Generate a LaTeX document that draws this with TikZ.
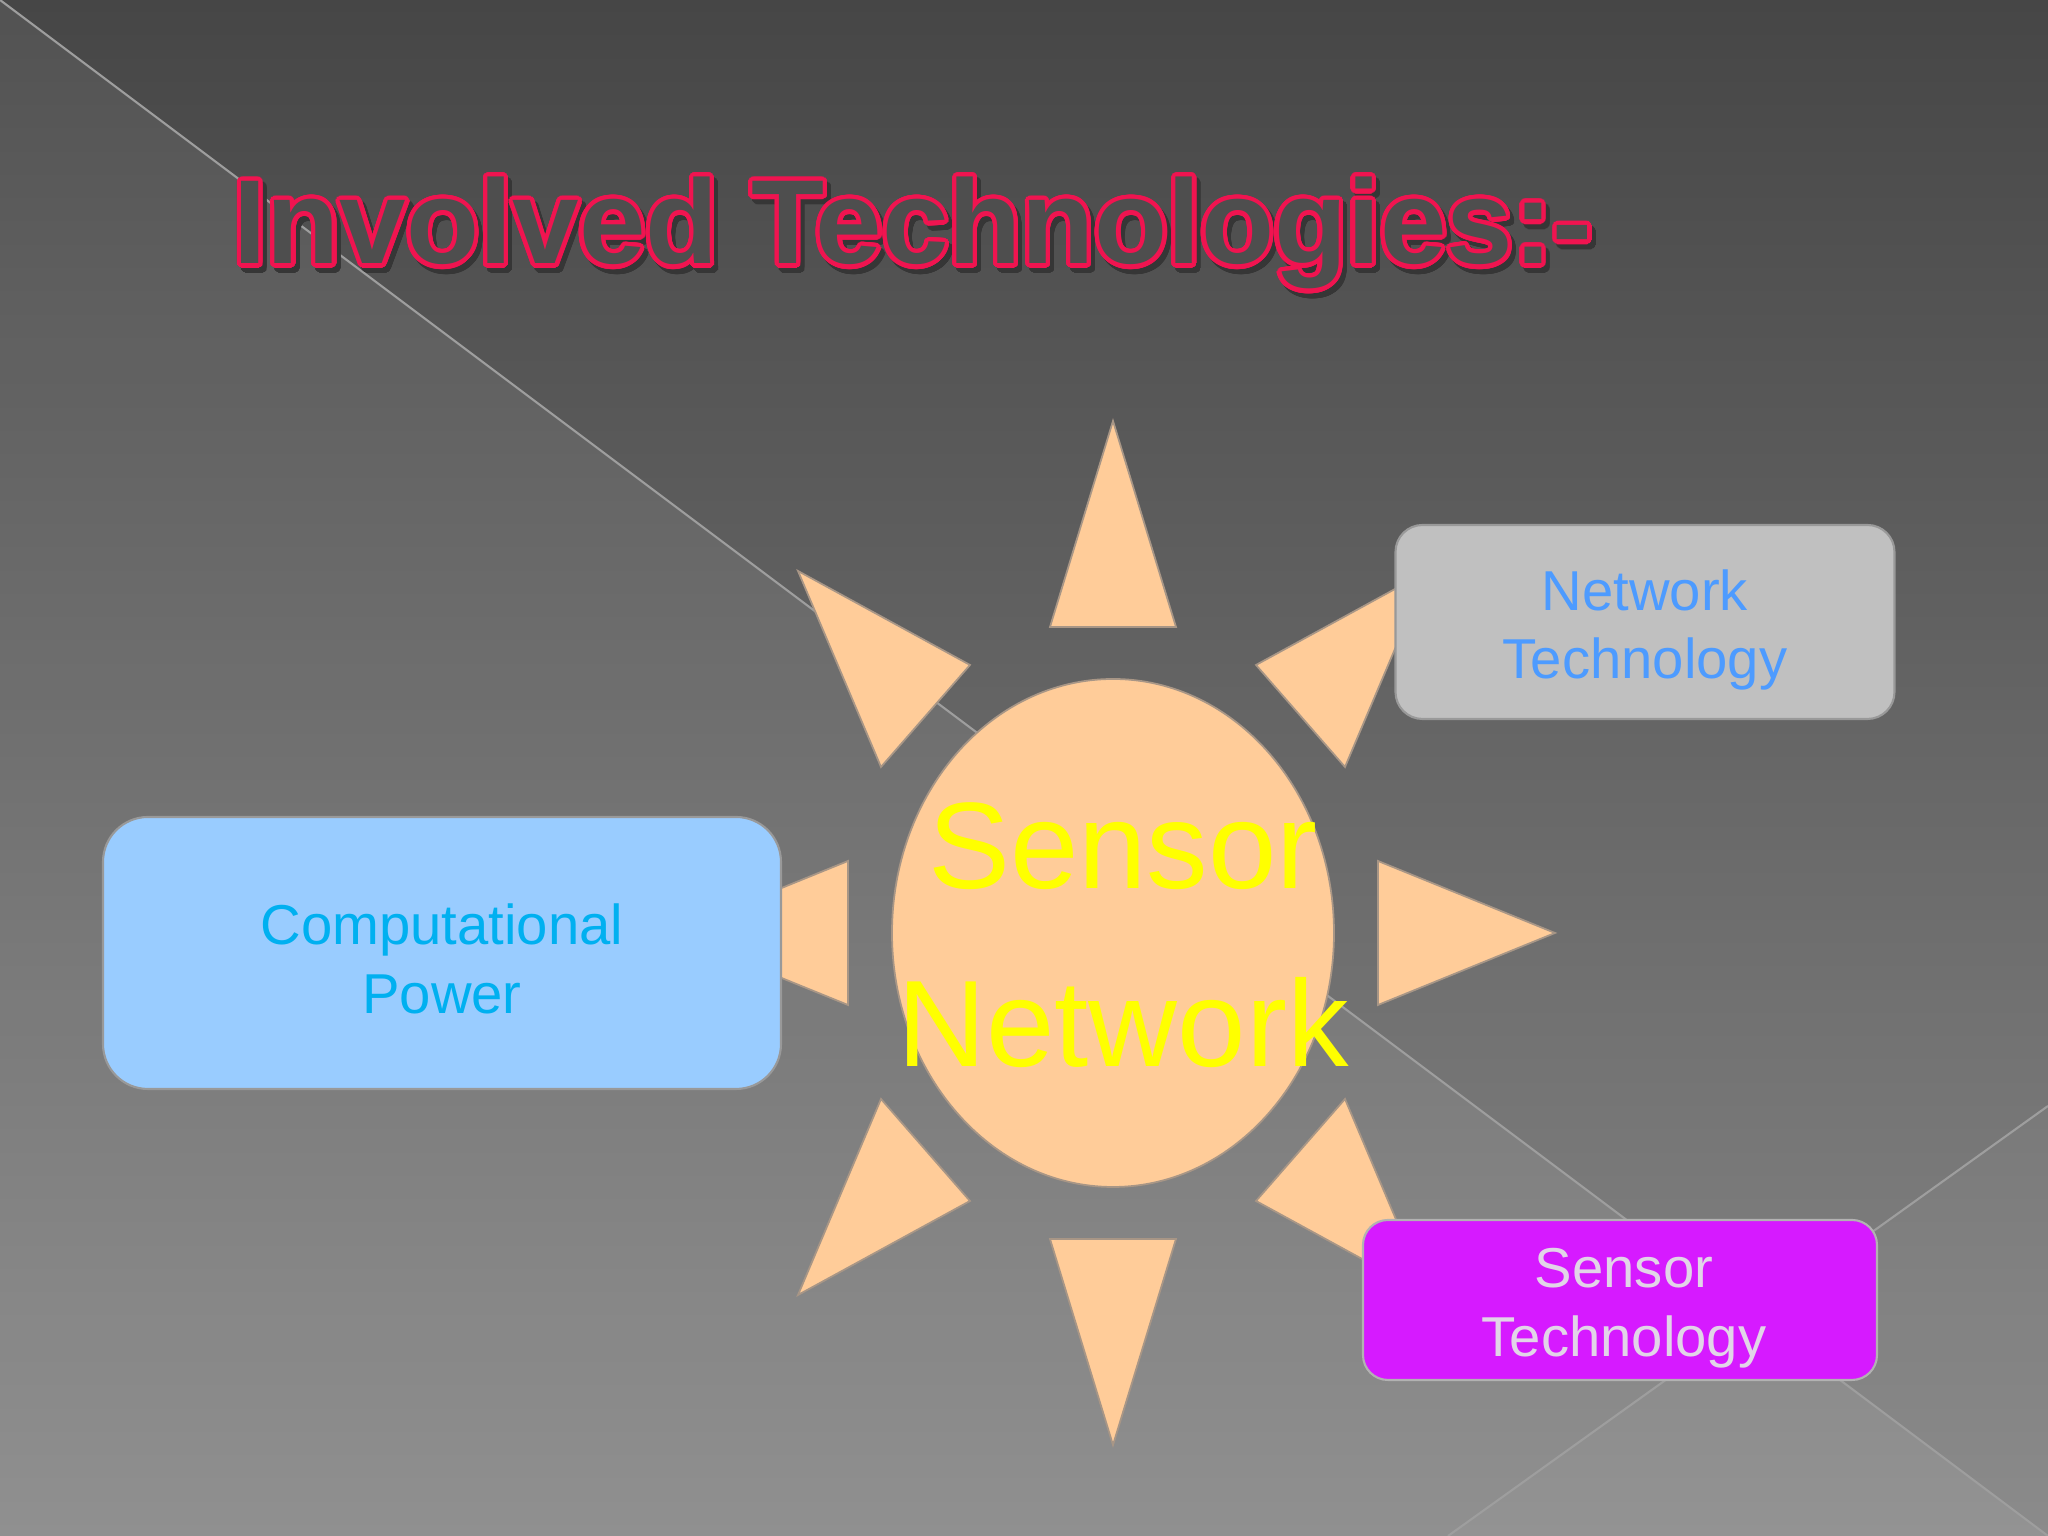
\documentclass[tikz,border=0pt]{standalone}
\usepackage{fontspec}
\setmainfont{Liberation Sans}
\usepackage{contour}
\contourlength{1.2pt}
\contournumber{40}
\definecolor{bgtop}{RGB}{70,70,70}
\definecolor{bgbot}{RGB}{136,136,136}
\definecolor{bgline}{RGB}{158,158,158}
\definecolor{titlered}{RGB}{240,20,80}
\definecolor{titlefill}{RGB}{78,78,78}
\definecolor{titleshade}{RGB}{54,54,54}
\definecolor{sunfill}{RGB}{255,204,153}
\definecolor{sunedge}{RGB}{168,150,134}
\definecolor{sunword}{RGB}{255,255,0}
\definecolor{netfill}{RGB}{192,192,192}
\definecolor{netword}{RGB}{77,155,255}
\definecolor{compfill}{RGB}{153,204,255}
\definecolor{compword}{RGB}{0,176,240}
\definecolor{sensfill}{RGB}{214,26,255}
\definecolor{sensword}{RGB}{226,212,232}
\tikzset{
  ray/.style={fill=sunfill,draw=sunedge,line width=0.5pt,line join=miter},
  techbox/.style={draw=black!40,line width=0.6pt,inner sep=0pt},
  boxword/.style={align=center,inner sep=0pt,font=\fontsize{16}{19.6}\selectfont},
  titleword/.style={anchor=base west,inner sep=0pt,font=\fontsize{34}{40}\bfseries\selectfont},
}
\begin{document}
\begin{tikzpicture}[x=1cm,y=1cm]
	\useasboundingbox (0,0) rectangle (20.48,15.36);
	% background
	\shade[top color=bgtop,bottom color=bgbot] (0,0) rectangle (20.48,15.36);
	\fill[white,fill opacity=0.07] (0,15.36) -- (20.48,0) -- (0,0) -- cycle;
	\fill[white,fill opacity=0.03] (14.48,0) -- (20.48,4.30) -- (20.48,0) -- cycle;
	\draw[bgline,line width=0.6pt] (0,15.36) -- (20.48,0);
	\draw[bgline,line width=0.6pt] (14.48,0) -- (20.48,4.30);
	% title
	\node[titleword,text=titleshade] at (2.37,12.67) {\contour{titleshade}{Involved Technologies:-}};
	\node[titleword] (title) at (2.33,12.72) {\contour{titlered}{\textcolor{titlefill}{Involved Technologies:-}}};
	% sun rays: tip / base / base
	\foreach \tx/\ty/\ax/\ay/\bx/\by in {
		11.13/11.15/10.50/9.09/11.76/9.09,
		11.13/0.91/10.50/2.97/11.76/2.97,
		15.55/6.03/13.78/6.75/13.78/5.31,
		6.71/6.03/8.48/6.75/8.48/5.31,
		7.98/9.65/9.70/8.71/8.81/7.69,
		14.28/9.65/12.56/8.71/13.45/7.69,
		7.98/2.41/9.70/3.35/8.81/4.37,
		14.28/2.41/12.56/3.35/13.45/4.37}
		\draw[ray] (\tx,\ty) -- (\ax,\ay) -- (\bx,\by) -- cycle;
	\draw[ray] (11.13,6.03) ellipse (2.21 and 2.54);
	\node[align=center,text=sunword,font=\fontsize{35}{50.6}\selectfont]
		(sun) at (11.23,6.01) {Sensor\\Network};
	% boxes
	\node[techbox,fill=netfill,rounded corners=0.27cm,
		minimum width=4.99cm,minimum height=1.94cm] (net) at (16.45,9.14) {};
	\node[boxword,text=netword] (netlabel) at ([yshift=-0.08cm]net.center) {Network\\Technology};
	\node[techbox,fill=compfill,rounded corners=0.45cm,
		minimum width=6.78cm,minimum height=2.72cm] (comp) at (4.42,5.83) {};
	\node[boxword,text=compword] (complabel) at ([yshift=-0.06cm]comp.center) {Computational\\Power};
	\node[techbox,fill=sensfill,draw=black!30,rounded corners=0.25cm,
		minimum width=5.14cm,minimum height=1.60cm] (sens) at (16.20,2.36) {};
	\node[boxword,text=sensword] (senslabel) at ([xshift=0.04cm,yshift=-0.08cm]sens.center) {Sensor\\Technology};
\end{tikzpicture}
\end{document}
